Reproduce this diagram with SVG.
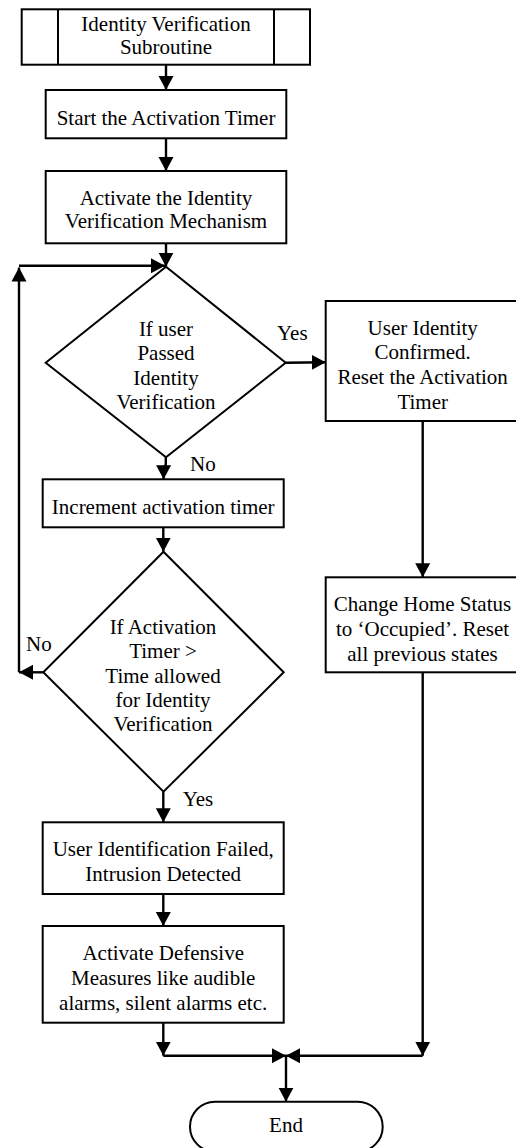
<svg xmlns="http://www.w3.org/2000/svg" width="516" height="1148" viewBox="0 0 516 1148">
<style>
.box{fill:#fff;stroke:#000;stroke-width:2}
.t{font-family:'Liberation Serif','Times New Roman','DejaVu Serif',serif;font-size:21px;fill:#000;text-anchor:middle}
.l{font-family:'Liberation Serif','Times New Roman','DejaVu Serif',serif;font-size:21px;fill:#000}
.c{fill:none;stroke:#000;stroke-width:2.4}
</style>
<defs>
<marker id="ah" markerUnits="userSpaceOnUse" markerWidth="15" markerHeight="16" refX="14" refY="8" orient="auto">
<path d="M0,0.5 L14,8 L0,15.5 z" fill="#000"/>
</marker>
</defs>
<rect width="516" height="1148" fill="#fff"/>
<g id="connectors">
<line class="c" x1="166" y1="64.7" x2="166" y2="90" marker-end="url(#ah)"/>
<line class="c" x1="166" y1="138.3" x2="166" y2="171" marker-end="url(#ah)"/>
<line class="c" x1="166" y1="243.3" x2="166" y2="266.7" marker-end="url(#ah)"/>
<line class="c" x1="285.7" y1="362.7" x2="325.7" y2="362.2" marker-end="url(#ah)"/>
<path class="c" d="M165.8,457.3 L165.8,465 L163.6,467 L163.6,479.3" marker-end="url(#ah)"/>
<line class="c" x1="163.3" y1="527.3" x2="163.3" y2="551.7" marker-end="url(#ah)"/>
<line class="c" x1="43.3" y1="672.3" x2="19" y2="672.3" marker-end="url(#ah)"/>
<line class="c" x1="19" y1="672.3" x2="19" y2="267.5" marker-end="url(#ah)"/>
<line class="c" x1="19" y1="265.7" x2="165" y2="265.7" marker-end="url(#ah)"/>
<line class="c" x1="163.3" y1="791.7" x2="163.3" y2="822.3" marker-end="url(#ah)"/>
<line class="c" x1="163.3" y1="894.3" x2="163.3" y2="926" marker-end="url(#ah)"/>
<line class="c" x1="163.3" y1="1022.7" x2="163.3" y2="1055.7" marker-end="url(#ah)"/>
<line class="c" x1="422.7" y1="421" x2="422.7" y2="577.3" marker-end="url(#ah)"/>
<line class="c" x1="422.7" y1="672.3" x2="422.7" y2="1055.7" marker-end="url(#ah)"/>
<line class="c" x1="163.3" y1="1055.7" x2="286" y2="1055.7" marker-end="url(#ah)"/>
<line class="c" x1="422.7" y1="1055.7" x2="286" y2="1055.7" marker-end="url(#ah)"/>
<line class="c" x1="286" y1="1055.7" x2="286" y2="1101.7" marker-end="url(#ah)"/>
<text class="l" x="277" y="340">Yes</text>
<text class="l" x="190" y="470.5">No</text>
<text class="l" x="26" y="650.5">No</text>
<text class="l" x="182.7" y="805.5">Yes</text>
</g>
<g id="subroutine">
<rect class="box" x="21.7" y="9.3" width="288.3" height="55.4"/>
<line class="box" x1="58" y1="9.3" x2="58" y2="64.7"/>
<line class="box" x1="274" y1="9.3" x2="274" y2="64.7"/>
<text class="t" x="166" y="31">Identity Verification</text>
<text class="t" x="166" y="53.7">Subroutine</text>
</g>
<g id="start-timer">
<rect class="box" x="45.7" y="90" width="240.6" height="48.3"/>
<text class="t" x="166" y="124.5">Start the Activation Timer</text>
</g>
<g id="activate-mechanism">
<rect class="box" x="45.7" y="171" width="240.6" height="72.3"/>
<text class="t" x="166" y="204.5">Activate the Identity</text>
<text class="t" x="166" y="228">Verification Mechanism</text>
</g>
<g id="decision-passed">
<polygon class="box" points="166,266.7 285.7,362.7 166,457.3 45.7,362.7"/>
<text class="t" x="166" y="335.5">If user</text>
<text class="t" x="166" y="360">Passed</text>
<text class="t" x="166" y="384.5">Identity</text>
<text class="t" x="166" y="409">Verification</text>
</g>
<g id="confirmed">
<rect class="box" x="325.7" y="301" width="194" height="120"/>
<text class="t" x="422.7" y="334.5">User Identity</text>
<text class="t" x="422.7" y="359">Confirmed.</text>
<text class="t" x="422.7" y="384">Reset the Activation</text>
<text class="t" x="422.7" y="409">Timer</text>
</g>
<g id="increment">
<rect class="box" x="42.7" y="479.3" width="241" height="48"/>
<text class="t" x="163.2" y="514">Increment activation timer</text>
</g>
<g id="decision-timer">
<polygon class="box" points="163.5,551.7 283.7,672.3 163.5,791.7 43.3,672.3"/>
<text class="t" x="163" y="634">If Activation</text>
<text class="t" x="163" y="658">Timer &gt;</text>
<text class="t" x="163" y="682.5">Time allowed</text>
<text class="t" x="163" y="707">for Identity</text>
<text class="t" x="163" y="731">Verification</text>
</g>
<g id="home-status">
<rect class="box" x="325.7" y="577.3" width="194" height="95"/>
<text class="t" x="422.5" y="610.5">Change Home Status</text>
<text class="t" x="422.5" y="635.5">to ‘Occupied’. Reset</text>
<text class="t" x="422.5" y="660.5">all previous states</text>
</g>
<g id="failed">
<rect class="box" x="42.7" y="822.3" width="241" height="71.7"/>
<text class="t" x="163.2" y="855.5">User Identification Failed,</text>
<text class="t" x="163.2" y="880.5">Intrusion Detected</text>
</g>
<g id="defensive">
<rect class="box" x="42.7" y="926" width="241" height="96.7"/>
<text class="t" x="163.2" y="960">Activate Defensive</text>
<text class="t" x="163.2" y="985">Measures like audible</text>
<text class="t" x="163.2" y="1010">alarms, silent alarms etc.</text>
</g>
<g id="end">
<rect class="box" x="190" y="1101.7" width="192.7" height="50" rx="25" ry="25"/>
<text class="t" x="286" y="1131.5">End</text>
</g>
</svg>
